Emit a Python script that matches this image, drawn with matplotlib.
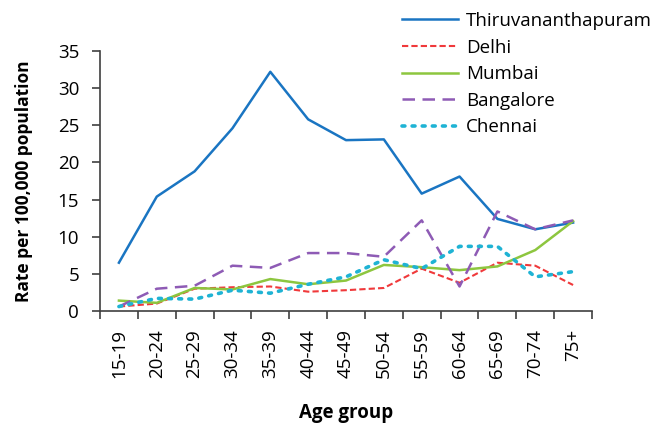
import matplotlib
matplotlib.use("Agg")
import matplotlib.pyplot as plt

age_groups = ["15-19", "20-24", "25-29", "30-34", "35-39", "40-44", "45-49",
              "50-54", "55-59", "60-64", "65-69", "70-74", "75+"]
thiruvananthapuram = [6.5, 15.4, 18.8, 24.6, 32.2, 25.8, 23.0, 23.1, 15.8, 18.1, 12.4, 11.0, 11.9]
delhi = [0.6, 1.0, 3.0, 3.2, 3.3, 2.6, 2.8, 3.1, 5.7, 3.8, 6.5, 6.1, 3.5]
mumbai = [1.4, 1.1, 3.1, 2.9, 4.3, 3.6, 4.1, 6.2, 5.9, 5.5, 6.0, 8.2, 12.1]
bangalore = [0.6, 3.0, 3.4, 6.1, 5.8, 7.8, 7.8, 7.3, 12.2, 3.3, 13.4, 11.0, 12.2]
chennai = [0.6, 1.7, 1.6, 2.8, 2.4, 3.6, 4.6, 6.9, 5.7, 8.7, 8.7, 4.6, 5.3]

plt.rcParams['font.family'] = ['Open Sans', 'DejaVu Sans']

fig = plt.figure(figsize=(6.65, 4.23), dpi=100)
ax = fig.add_axes([100/665, 1-311/423, (592-100)/665, (311-51)/423])

x = list(range(len(age_groups)))
l1, = ax.plot(x, thiruvananthapuram, color='#1a75c2', lw=1.8, label='Thiruvananthapuram')
l2, = ax.plot(x, delhi, color='#f0393b', lw=1.5, ls=(0, (3, 1.5)), label='Delhi')
l3, = ax.plot(x, mumbai, color='#8dc63f', lw=1.8, label='Mumbai')
l4, = ax.plot(x, bangalore, color='#8e5bb5', lw=1.8, ls=(0, (5, 3)), label='Bangalore')
l5, = ax.plot(x, chennai, color='#1fb3d4', lw=2.6, ls=(0, (0.8, 2.0)), dash_capstyle='round', label='Chennai')

ax.set_xlim(-0.5, len(age_groups) - 0.5)
ax.set_ylim(0, 35)
ax.set_yticks(range(0, 36, 5))
ax.set_xticks(x)
ax.set_xticklabels(age_groups, rotation=90, fontsize=13.5)
ax.set_xticks([i - 0.5 for i in range(len(age_groups) + 1)], minor=True)
ax.tick_params(axis='x', which='major', length=0, pad=13)
ax.tick_params(axis='x', which='minor', length=6, width=1.2, color='#404040', direction='out')
ax.tick_params(axis='y', labelsize=13.5, length=6, width=1.2, color='#404040', direction='out', pad=9)
for s in ['top', 'right']:
    ax.spines[s].set_visible(False)
for s in ['left', 'bottom']:
    ax.spines[s].set_color('#404040')
    ax.spines[s].set_linewidth(1.2)

ax.set_ylabel('Rate per 100,000 population', fontsize=12.5, fontweight='bold', labelpad=18)
ax.set_xlabel('Age group', fontsize=13.5, fontweight='bold', labelpad=18)

fig.legend(handles=[l1, l2, l3, l4, l5], loc='upper left', bbox_to_anchor=(402/665, 1 - 12/423),
           frameon=False, fontsize=13.5, handlelength=3.0, handletextpad=0.4,
           labelspacing=0.46, borderaxespad=0, borderpad=0)

fig.savefig('out.png', dpi=100, facecolor='white')
